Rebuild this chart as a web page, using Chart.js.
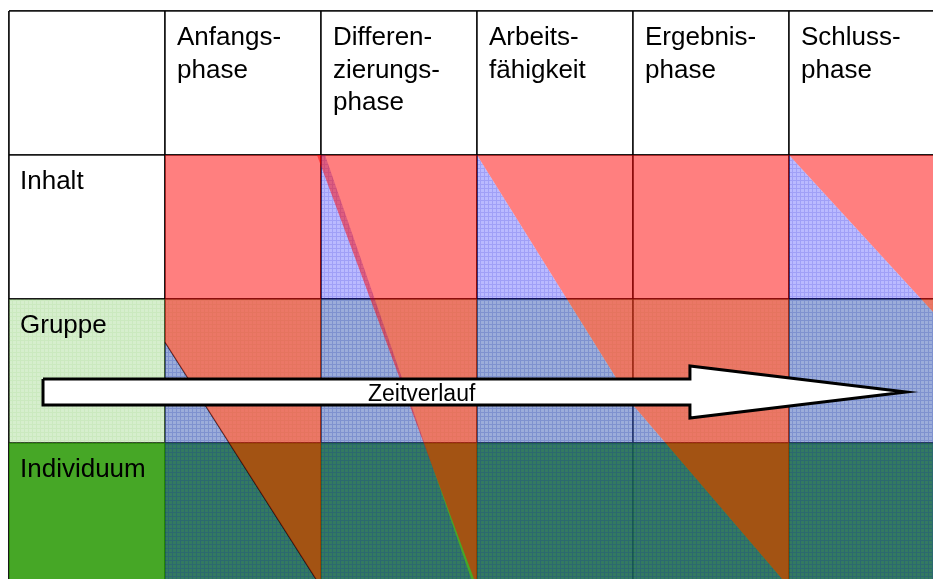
<!DOCTYPE html>
<html>
<head>
<meta charset="utf-8">
<script src="https://cdn.jsdelivr.net/npm/chart.js@4.4.0/dist/chart.umd.min.js"></script>
<style>
  html, body { margin: 0; padding: 0; background: #fff; overflow: hidden; }
  #wrap { position: absolute; left: 0; top: 0; width: 960px; height: 600px; }
</style>
</head>
<body>
<div id="wrap"><canvas id="phasen" width="960" height="600"></canvas></div>
<script>
// Spalte 0 = Beschriftung, Spalten 1..5 = Phasen; Zeile 0 = Kopf, Zeilen 1..3 = Ebenen
const phasen = [["Anfangs-", "phase"], ["Differen-", "zierungs-", "phase"], ["Arbeits-", "fähigkeit"], ["Ergebnis-", "phase"], ["Schluss-", "phase"]];
const ebenen = ["Inhalt", "Gruppe", "Individuum"];
const pfeilText = "Zeitverlauf";

// Flächen als [Spalte, Zeile]
const gruppeFlaeche = [[0, 2], [6, 2], [6, 3], [0, 3], [0, 2]];
const individuumFlaeche = [[0, 3], [6, 3], [6, 4], [0, 4], [0, 3]];

const inhalt1 = [[1, 1], [2, 1], [2, 4], [1, 2.3], [1, 1]];
const inhalt2 = [[1.974, 1], [3, 1], [3, 4], [1.974, 1]];
const inhalt3 = [[3, 1], [5, 1], [5, 4], [4, 2.736], [3, 1]];
const inhalt5 = [[5, 1], [6, 1], [6, 2.18], [5, 1]];

const gruppe1 = [[1, 2.3], [2, 4], [1, 4], [1, 2.3]];
const gruppe2 = [[2, 1], [2.026, 1], [2.981, 4], [2, 4], [2, 1]];
const gruppe3 = [[3, 1], [4, 2.736], [5, 4], [3, 4], [3, 1]];
const gruppe5 = [[5, 1], [6, 2.18], [6, 4], [5, 4], [5, 1]];

// Pfeil "Zeitverlauf"
const pfeil = [[0.218, 2.556], [4.365, 2.556], [4.365, 2.465], [5.75, 2.646], [4.365, 2.826], [4.365, 2.736], [0.218, 2.736], [0.218, 2.556]];
const pfeilMitte = [2.645, 2.708];

const muster = (basis, linie, groesse) => {
    const c = document.createElement('canvas');
    c.width = c.height = groesse;
    const g = c.getContext('2d');
    g.fillStyle = basis;
    g.fillRect(0, 0, groesse, groesse);
    g.fillStyle = linie;
    g.fillRect(0, 0, groesse, 1);
    g.fillRect(0, 1, 1, groesse - 1);
    return g.createPattern(c, 'repeat');
};

const blauMuster = muster('rgba(0,0,255,0.27)', 'rgba(0,0,200,0.14)', 4);
const hellgruenMuster = muster('rgba(120,200,90,0.30)', 'rgba(120,200,90,0.12)', 4);
const rot = 'rgba(255,0,0,0.5)';
const dunkelgruen = 'rgba(40,153,2,0.86)';

const flaeche = (punkte, farbe, order, extra) => Object.assign({
    data: punkte.map(p => ({ x: p[0], y: p[1] })),
    backgroundColor: farbe,
    borderColor: 'rgba(0,0,0,0)',
    borderWidth: 0,
    pointRadius: 0,
    pointHoverRadius: 0,
    fill: 'shape',
    tension: 0,
    order: order
}, extra || {});

const texte = {
    id: 'texte',
    afterDatasetsDraw(chart) {
        const { ctx, scales: { x, y } } = chart;
        ctx.save();
        ctx.fillStyle = '#000';
        ctx.textBaseline = 'alphabetic';
        ctx.font = '26px "Liberation Sans", Arial, sans-serif';
        phasen.forEach((zeilen, i) => {
            zeilen.forEach((t, j) => {
                ctx.fillText(t, x.getPixelForValue(i + 1) + 12, y.getPixelForValue(0) + 34 + j * 32.5);
            });
        });
        ebenen.forEach((t, i) => {
            ctx.fillText(t, x.getPixelForValue(0) + 11, y.getPixelForValue(i + 1) + 34);
        });
        ctx.font = '23px "Liberation Sans", Arial, sans-serif';
        ctx.textAlign = 'center';
        ctx.fillText(pfeilText, x.getPixelForValue(pfeilMitte[0]), y.getPixelForValue(pfeilMitte[1]));
        ctx.restore();
    }
};

const raster = { color: 'rgba(0,0,0,0.9)', lineWidth: 1.8, drawTicks: false };

new Chart(document.getElementById('phasen'), {
    type: 'line',
    data: {
        datasets: [
            flaeche(gruppeFlaeche, hellgruenMuster, 10),
            flaeche(individuumFlaeche, dunkelgruen, 9),
            flaeche(gruppe1, blauMuster, 6, {
                borderWidth: 1.2,
                segment: { borderColor: c => c.p0DataIndex === 0 ? 'rgba(0,0,0,0.75)' : 'rgba(0,0,0,0)' }
            }),
            flaeche(gruppe2, blauMuster, 6),
            flaeche(gruppe3, blauMuster, 6),
            flaeche(gruppe5, blauMuster, 6),
            flaeche(inhalt1, rot, 4),
            flaeche(inhalt2, rot, 4),
            flaeche(inhalt3, rot, 4),
            flaeche(inhalt5, rot, 4),
            flaeche(pfeil, '#fff', 1, { borderColor: '#000', borderWidth: 3, borderJoinStyle: 'miter' })
        ]
    },
    options: {
        responsive: false,
        animation: false,
        events: [],
        layout: { padding: { left: 9, top: 11, right: 15, bottom: 13 } },
        plugins: { legend: { display: false }, tooltip: { enabled: false } },
        scales: {
            x: {
                type: 'linear', min: 0, max: 6,
                ticks: { display: false, stepSize: 1 },
                grid: raster, border: { display: false },
                afterFit: s => { s.height = 0; }
            },
            y: {
                type: 'linear', min: 0, max: 4, reverse: true,
                ticks: { display: false, stepSize: 1 },
                grid: raster, border: { display: false },
                afterFit: s => { s.width = 0; }
            }
        }
    },
    plugins: [texte]
});
</script>
</body>
</html>
